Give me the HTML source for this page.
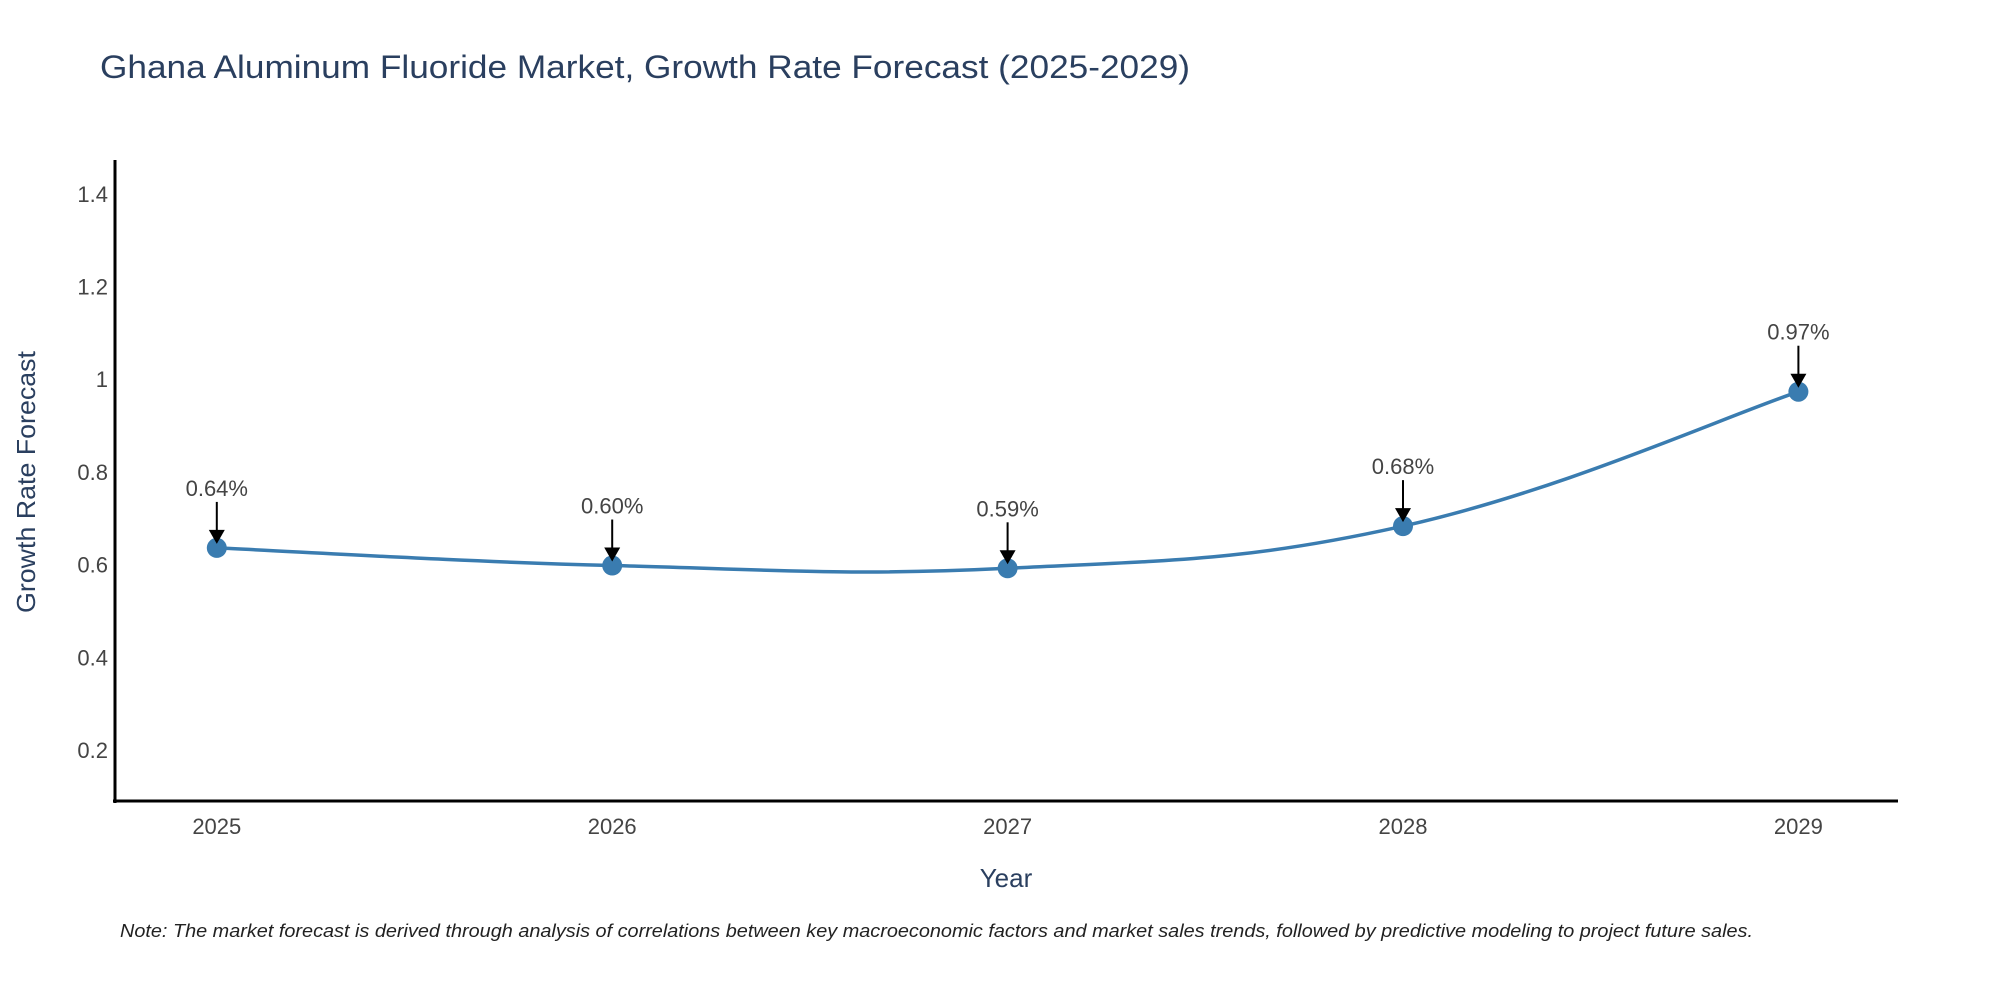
<!DOCTYPE html>
<html><head><meta charset="utf-8"><style>
body{margin:0;background:#fff;}
svg text{font-family:"Liberation Sans",sans-serif;}
</style></head><body>
<svg id="chart" width="2000" height="1000" xmlns="http://www.w3.org/2000/svg">
<text x="100" y="78" font-size="32" fill="#2a3f5f" textLength="1090" lengthAdjust="spacingAndGlyphs">Ghana Aluminum Fluoride Market, Growth Rate Forecast (2025-2029)</text>
<g id="yticks"></g>
<g id="xticks"></g>
<path id="line" fill="none" stroke="#3a7cb0" stroke-width="3.5"/>
<g id="points"></g>
<g id="annots"></g>
<line x1="115" y1="160" x2="115" y2="803" stroke="#000" stroke-width="3"/>
<line x1="113" y1="801" x2="1898" y2="801" stroke="#000" stroke-width="3"/>
<text transform="translate(35,482) rotate(-90)" text-anchor="middle" font-size="26" fill="#2a3f5f" textLength="262" lengthAdjust="spacingAndGlyphs">Growth Rate Forecast</text>
<text x="1006" y="887" text-anchor="middle" font-size="26" fill="#2a3f5f">Year</text>
<text x="120" y="937" font-size="18" font-style="italic" fill="#222" textLength="1633" lengthAdjust="spacingAndGlyphs">Note: The market forecast is derived through analysis of correlations between key macroeconomic factors and market sales trends, followed by predictive modeling to project future sales.</text>
</svg>
<script>
const years = [2025, 2026, 2027, 2028, 2029];
const values = [0.636, 0.598, 0.592, 0.683, 0.973];
const labels = ["0.64%", "0.60%", "0.59%", "0.68%", "0.97%"];
const yTicks = [0.2, 0.4, 0.6, 0.8, 1, 1.2, 1.4];
const yTickLabels = ["0.2", "0.4", "0.6", "0.8", "1", "1.2", "1.4"];
const NS = "http://www.w3.org/2000/svg";
function xs(yr){ return 216.8 + (yr - 2025) * 395.4; }
function ys(v){ return 842.7 - v / 0.2 * 92.7; }
function mk(tag, attrs, parent){ const e = document.createElementNS(NS, tag); for (const k in attrs) e.setAttribute(k, attrs[k]); parent.appendChild(e); return e; }
const yt = document.getElementById('yticks');
yTicks.forEach((v, i) => {
  const t = mk('text', {x: 108, y: ys(v) + 8, 'text-anchor': 'end', 'font-size': 22, fill: '#444'}, yt);
  
  
  t.textContent = yTickLabels[i];
});
const xt = document.getElementById('xticks');
years.forEach(yr => {
  const t = mk('text', {x: xs(yr), y: 834, 'text-anchor': 'middle', 'font-size': 22, fill: '#444'}, xt);
  
  
  t.textContent = yr;
});
const P = years.map((yr, i) => [xs(yr), ys(values[i])]);
let d = `M${P[0][0]},${P[0][1]}`;
const s = 0.2;
for (let i = 0; i < P.length - 1; i++) {
  const p0 = P[Math.max(0, i - 1)], p1 = P[i], p2 = P[i + 1], p3 = P[Math.min(P.length - 1, i + 2)];
  const c1 = [p1[0] + (p2[0] - p0[0]) * s, p1[1] + (p2[1] - p0[1]) * s];
  const c2 = [p2[0] - (p3[0] - p1[0]) * s, p2[1] - (p3[1] - p1[1]) * s];
  d += ` C${c1[0]},${c1[1]} ${c2[0]},${c2[1]} ${p2[0]},${p2[1]}`;
}
document.getElementById('line').setAttribute('d', d);
const pts = document.getElementById('points');
const an = document.getElementById('annots');
P.forEach((p, i) => {
  const c = mk('circle', {cx: p[0], cy: p[1], r: 10, fill: '#3a7cb0'}, pts);
  
  
  const l = mk('line', {x1: p[0], y1: p[1] - 46, x2: p[0], y2: p[1] - 16, stroke: '#000', 'stroke-width': 2}, an);
  
  
  const h = mk('polygon', {points: `${p[0]-8},${p[1]-18} ${p[0]+8},${p[1]-18} ${p[0]},${p[1]-4}`, fill: '#000'}, an);
  
  
  const t = mk('text', {x: p[0], y: p[1] - 52, 'text-anchor': 'middle', 'font-size': 22, fill: '#444'}, an);
  
  
  t.textContent = labels[i];
});
</script>
</body></html>
